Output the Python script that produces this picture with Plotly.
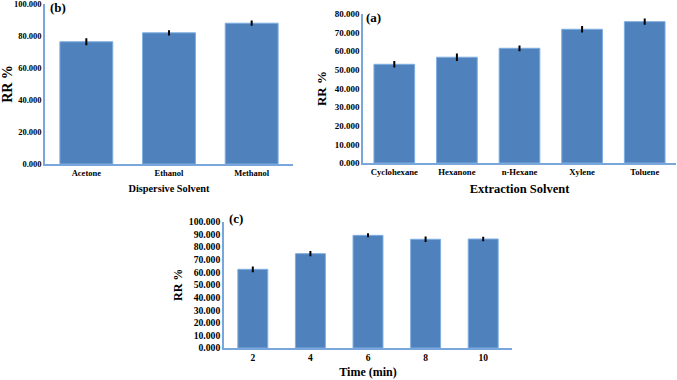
import plotly.graph_objects as go

# Panel (b): dispersive solvent
disp_solvents = ["Acetone", "Ethanol", "Methanol"]
disp_rr = [76.4, 82.0, 88.0]
disp_err = [1.6, 1.0, 1.0]

# Panel (a): extraction solvent
extr_solvents = ["Cyclohexane", "Hexanone", "n-Hexane", "Xylene", "Toluene"]
extr_rr = [53.0, 56.8, 61.6, 71.8, 75.9]
extr_err = [1.2, 1.5, 1.0, 1.2, 1.2]

# Panel (c): time
times = ["2", "4", "6", "8", "10"]
time_rr = [62.3, 74.7, 89.2, 86.1, 86.3]
time_err = [1.5, 1.3, 0.8, 1.3, 1.0]

bar_color = "#4F81BD"
edge_color = "#7FAEE0"
axis_color = "#79A7DC"
font_family = "Liberation Serif, Times New Roman, serif"

fig = go.Figure()

def add_bars(x, y, err, xa, ya, w):
    fig.add_trace(go.Bar(
        x=x, y=y, xaxis=xa, yaxis=ya, width=w,
        marker=dict(color=bar_color, line=dict(color=edge_color, width=1)),
        error_y=dict(type="data", array=err, color="black", thickness=2, width=1),
        showlegend=False,
    ))

add_bars(disp_solvents, disp_rr, disp_err, "x", "y", 0.64)
add_bars(extr_solvents, extr_rr, extr_err, "x2", "y2", 0.65)
add_bars(times, time_rr, time_err, "x3", "y3", 0.52)

W, H = 677, 380

def fnt(size):
    return dict(family=font_family, size=size, color="black", weight="bold")

def xaxis(domain, anchor, title, tsize, ttsize, standoff):
    return dict(domain=domain, anchor=anchor, showline=True, linecolor=axis_color, linewidth=1.5,
                showgrid=False, ticks="", ticklen=0, tickfont=fnt(tsize), zeroline=False,
                ticklabeloverflow="allow",
                title=dict(text=title, font=fnt(ttsize), standoff=standoff), automargin=False)

def yaxis(domain, anchor, rng, dtick, tsize, ttsize, standoff):
    return dict(domain=domain, anchor=anchor, range=rng, dtick=dtick, tickformat=".3f",
                showline=True, linecolor=axis_color, linewidth=1.5, showgrid=False,
                ticks="", ticklen=0, tickfont=fnt(tsize), zeroline=False,
                ticklabeloverflow="allow",
                title=dict(text="RR %", font=fnt(ttsize), standoff=standoff), automargin=False)

def label(text, x, y):
    return dict(text=text, x=x / W, y=(H - y) / H, xref="paper", yref="paper",
                xanchor="left", yanchor="middle", showarrow=False, font=fnt(13))

fig.update_layout(
    width=W, height=H,
    margin=dict(l=0, r=0, t=0, b=0),
    paper_bgcolor="white", plot_bgcolor="white",
    xaxis=xaxis([45 / W, 293 / W], "y", "Dispersive Solvent", 8.5, 10.3, 8),
    yaxis=yaxis([(H - 164) / H, (H - 4) / H], "x", [0, 100.001], 20, 8.5, 14, 4),
    xaxis2=xaxis([363 / W, 676 / W], "y2", "Extraction Solvent", 8.7, 12.5, 8),
    yaxis2=yaxis([(H - 163) / H, (H - 14) / H], "x2", [0, 80.001], 10, 9, 13, 5),
    xaxis3=xaxis([224 / W, 512 / W], "y3", "Time (min)", 9.5, 12, 5),
    yaxis3=yaxis([(H - 348) / H, (H - 221.7) / H], "x3", [0, 100.001], 10, 9.7, 12, 4),
    annotations=[
        label("(b)", 48, 8),
        label("(a)", 364, 17),
        label("(c)", 227, 218),
    ],
)

fig.write_html("out.html", config={"displayModeBar": False},
               post_script="document.body.style.margin='0';document.body.style.overflow='hidden';")
